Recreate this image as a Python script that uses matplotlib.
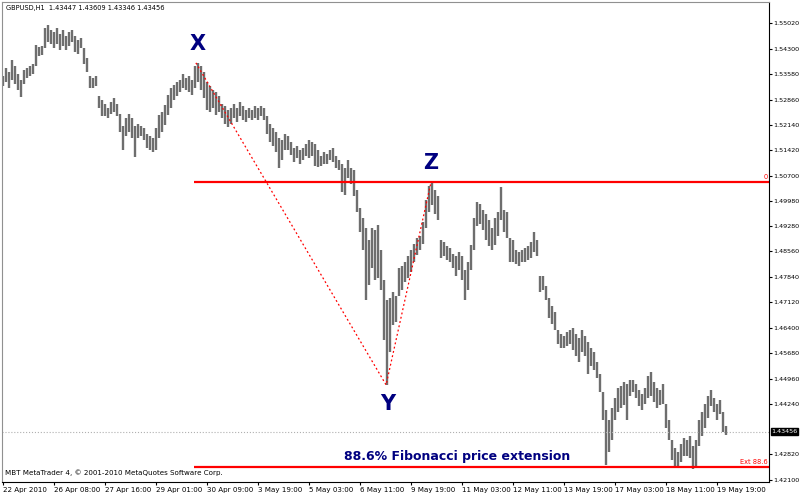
import matplotlib
matplotlib.use("Agg")
import matplotlib.pyplot as plt
import matplotlib.transforms as mtransforms

# GBPUSD H1 bars (each bar here ~2 hours)
highs = [1.5353, 1.5375, 1.5364, 1.5398, 1.5381, 1.5358, 1.5341, 1.5370, 1.5375, 1.5381,
         1.5387, 1.5441, 1.5435, 1.5438, 1.5489, 1.5497, 1.5483, 1.5477, 1.5489, 1.5472,
         1.5483, 1.5466, 1.5477, 1.5483, 1.5466, 1.5455, 1.5460, 1.5432, 1.5404, 1.5353,
         1.5347, 1.5353, 1.5296, 1.5285, 1.5273, 1.5262, 1.5279, 1.5290, 1.5273, 1.5245,
         1.5211, 1.5234, 1.5245, 1.5234, 1.5211, 1.5217, 1.5211, 1.5206, 1.5189, 1.5183,
         1.5177, 1.5206, 1.5242, 1.5251, 1.5271, 1.5299, 1.5319, 1.5327, 1.5336, 1.5341,
         1.5358, 1.5347, 1.5353, 1.5341, 1.5381, 1.5390, 1.5381, 1.5364, 1.5336, 1.5324,
         1.5313, 1.5307, 1.5296, 1.5273, 1.5268, 1.5256, 1.5262, 1.5273, 1.5262, 1.5279,
         1.5268, 1.5256, 1.5262, 1.5256, 1.5268, 1.5262, 1.5268, 1.5262, 1.5239, 1.5217,
         1.5206, 1.5194, 1.5177, 1.5172, 1.5189, 1.5183, 1.5166, 1.5149, 1.5155, 1.5143,
         1.5149, 1.5160, 1.5172, 1.5166, 1.5160, 1.5143, 1.5126, 1.5138, 1.5132, 1.5143,
         1.5149, 1.5126, 1.5115, 1.5104, 1.5092, 1.5115, 1.5092, 1.5087, 1.5030, 1.4979,
         1.4951, 1.4922, 1.4888, 1.4922, 1.4917, 1.4931, 1.4860, 1.4775, 1.4718, 1.4724,
         1.4741, 1.4730, 1.4809, 1.4815, 1.4826, 1.4843, 1.4860, 1.4877, 1.4894, 1.4900,
         1.4939, 1.5002, 1.5041, 1.5053, 1.5030, 1.5013, 1.4888, 1.4883, 1.4871, 1.4866,
         1.4849, 1.4843, 1.4854, 1.4843, 1.4803, 1.4826, 1.4874, 1.4951, 1.4996, 1.4990,
         1.4973, 1.4962, 1.4945, 1.4922, 1.4951, 1.4968, 1.5038, 1.4973, 1.4968, 1.4894,
         1.4888, 1.4860, 1.4854, 1.4860, 1.4866, 1.4871, 1.4883, 1.4911, 1.4888, 1.4786,
         1.4786, 1.4758, 1.4724, 1.4701, 1.4684, 1.4634, 1.4622, 1.4616, 1.4628, 1.4634,
         1.4639, 1.4622, 1.4611, 1.4634, 1.4616, 1.4599, 1.4582, 1.4571, 1.4543, 1.4509,
         1.4458, 1.4407, 1.4379, 1.4413, 1.4441, 1.4469, 1.4475, 1.4486, 1.4481, 1.4492,
         1.4492, 1.4481, 1.4464, 1.4452, 1.4469, 1.4503, 1.4515, 1.4486, 1.4469, 1.4464,
         1.4481, 1.4424, 1.4379, 1.4322, 1.4299, 1.4288, 1.4311, 1.4328, 1.4322, 1.4333,
         1.4305, 1.4322, 1.4379, 1.4401, 1.4424, 1.4447, 1.4464, 1.4441, 1.4424, 1.4435,
         1.4401, 1.4361]
lows = [1.5324, 1.5336, 1.5319, 1.5341, 1.5330, 1.5313, 1.5293, 1.5330, 1.5347, 1.5353,
        1.5358, 1.5381, 1.5409, 1.5412, 1.5432, 1.5449, 1.5443, 1.5432, 1.5443, 1.5426,
        1.5438, 1.5426, 1.5438, 1.5449, 1.5421, 1.5415, 1.5432, 1.5387, 1.5364, 1.5319,
        1.5319, 1.5324, 1.5262, 1.5239, 1.5239, 1.5234, 1.5245, 1.5251, 1.5239, 1.5194,
        1.5143, 1.5183, 1.5194, 1.5177, 1.5123, 1.5177, 1.5183, 1.5172, 1.5149, 1.5143,
        1.5138, 1.5143, 1.5177, 1.5194, 1.5214, 1.5242, 1.5262, 1.5285, 1.5296, 1.5307,
        1.5319, 1.5313, 1.5307, 1.5299, 1.5319, 1.5336, 1.5313, 1.5290, 1.5256, 1.5251,
        1.5262, 1.5242, 1.5251, 1.5234, 1.5217, 1.5208, 1.5217, 1.5234, 1.5223, 1.5239,
        1.5228, 1.5223, 1.5234, 1.5228, 1.5234, 1.5228, 1.5239, 1.5228, 1.5189, 1.5166,
        1.5155, 1.5138, 1.5092, 1.5115, 1.5143, 1.5143, 1.5129, 1.5109, 1.5121, 1.5104,
        1.5115, 1.5126, 1.5121, 1.5126, 1.5098, 1.5095, 1.5098, 1.5104, 1.5104, 1.5115,
        1.5109, 1.5092, 1.5087, 1.5024, 1.5016, 1.5064, 1.5047, 1.5013, 1.4968, 1.4911,
        1.4860, 1.4718, 1.4761, 1.4809, 1.4775, 1.4781, 1.4747, 1.4605, 1.4478, 1.4571,
        1.4648, 1.4656, 1.4730, 1.4747, 1.4769, 1.4781, 1.4798, 1.4826, 1.4846, 1.4860,
        1.4877, 1.4922, 1.4968, 1.4988, 1.4962, 1.4945, 1.4837, 1.4843, 1.4832, 1.4826,
        1.4809, 1.4786, 1.4803, 1.4775, 1.4718, 1.4747, 1.4803, 1.4860, 1.4928, 1.4934,
        1.4917, 1.4888, 1.4871, 1.4860, 1.4874, 1.4900, 1.4945, 1.4911, 1.4894, 1.4826,
        1.4826, 1.4820, 1.4815, 1.4826, 1.4826, 1.4832, 1.4837, 1.4854, 1.4843, 1.4741,
        1.4747, 1.4718, 1.4667, 1.4650, 1.4634, 1.4594, 1.4582, 1.4582, 1.4588, 1.4594,
        1.4577, 1.4560, 1.4543, 1.4571, 1.4560, 1.4509, 1.4531, 1.4520, 1.4498, 1.4458,
        1.4379, 1.4251, 1.4288, 1.4322, 1.4379, 1.4401, 1.4413, 1.4421, 1.4379, 1.4447,
        1.4458, 1.4441, 1.4418, 1.4407, 1.4424, 1.4441, 1.4447, 1.4430, 1.4413, 1.4421,
        1.4424, 1.4356, 1.4322, 1.4265, 1.4243, 1.4243, 1.4260, 1.4277, 1.4277, 1.4271,
        1.4241, 1.4248, 1.4305, 1.4333, 1.4356, 1.4384, 1.4418, 1.4401, 1.4379, 1.4396,
        1.4345, 1.4335]

date_labels = ["22 Apr 2010", "26 Apr 08:00", "27 Apr 16:00", "29 Apr 01:00", "30 Apr 09:00",
               "3 May 19:00", "5 May 03:00", "6 May 11:00", "9 May 19:00", "11 May 03:00",
               "12 May 11:00", "13 May 19:00", "17 May 03:00", "18 May 11:00", "19 May 19:00"]
label_step = 17

price_ticks = [1.55020, 1.54300, 1.53580, 1.52860, 1.52140, 1.51420, 1.50700, 1.49980,
               1.49280, 1.48560, 1.47840, 1.47120, 1.46400, 1.45680, 1.44960, 1.44240,
               1.42820, 1.42100]

# X-Y-Z swing points (bar index, price)
swing_names = ["X", "Y", "Z"]
swing_bars = [64.3, 127.7, 142.7]
swing_prices = [1.5390, 1.4478, 1.5053]
ext_level = 1.4245
last_price = 1.43456
header = "GBPUSD,H1  1.43447 1.43609 1.43346 1.43456"

navy = "#000080"

fig = plt.figure(figsize=(8, 4.96), dpi=100)
ax = fig.add_axes([2 / 800, 14 / 496, 767 / 800, 480 / 496])

bars = range(len(highs))
ax.vlines(bars, lows, highs, color="#6e6e6e", linewidth=1.7)

# current price
ax.axhline(last_price, color="#b0b0b0", linestyle=":", linewidth=0.8)

# zig-zag X -> Y -> Z
ax.plot(swing_bars, swing_prices, color="red", linestyle=(0, (1.5, 2)), linewidth=0.9)

# Z level and 88.6% extension level
ax.hlines([swing_prices[2], ext_level], swing_bars[0] - 0.5, 255.3, color="red", linewidth=1.6)

# letters
ax.text(swing_bars[0] + 0.5, swing_prices[0] + 0.0025, "X", color=navy, fontsize=15,
        fontweight="bold", ha="center", va="bottom")
ax.text(swing_bars[1] + 0.5, swing_prices[1] - 0.0025, "Y", color=navy, fontsize=15,
        fontweight="bold", ha="center", va="top")
ax.text(swing_bars[2] - 0.2, swing_prices[2] + 0.0025, "Z", color=navy, fontsize=15,
        fontweight="bold", ha="center", va="bottom")

ax.text(151.3, ext_level + 0.0013, "88.6% Fibonacci price extension", color=navy,
        fontsize=9, fontweight="bold", ha="center", va="bottom")
ax.text(254.8, ext_level + 0.0005, "Ext 88.6", color="red", fontsize=4.8, ha="right", va="bottom")
ax.text(254.9, swing_prices[2] + 0.0005, "0", color="red", fontsize=4.8, ha="right", va="bottom")

ax.text(0.005, 0.993, header, transform=ax.transAxes, fontsize=4.8, va="top", ha="left")
ax.text(0.004, 0.012, "MBT MetaTrader 4, \u00a9 2001-2010 MetaQuotes Software Corp.",
        transform=ax.transAxes, fontsize=5.1, va="bottom", ha="left")

ax.set_xlim(-0.33, 255.33)
ax.set_ylim(1.42030, 1.55623)

# right price axis
ax.yaxis.tick_right()
ax.set_yticks(price_ticks)
ax.set_yticklabels(["%.5f" % p for p in price_ticks])
ax.tick_params(axis="y", direction="out", length=2, width=0.8, labelsize=4.6, pad=1)

trans = mtransforms.blended_transform_factory(ax.transAxes, ax.transData)
ax.text(1.003, last_price, "%.5f" % last_price, transform=trans, fontsize=4.6, color="white",
        va="center", ha="left",
        bbox=dict(boxstyle="square,pad=0.12", facecolor="black", edgecolor="black"))

# bottom time axis
ax.set_xticks([k * label_step for k in range(len(date_labels))])
ax.set_xticklabels(date_labels, ha="left")
ax.tick_params(axis="x", direction="out", length=2.5, width=0.8, labelsize=5.1, pad=1)

for side in ["left", "top"]:
    ax.spines[side].set_color("#909090")
for side in ["right", "bottom"]:
    ax.spines[side].set_color("black")

fig.savefig("out.png", dpi=100)
